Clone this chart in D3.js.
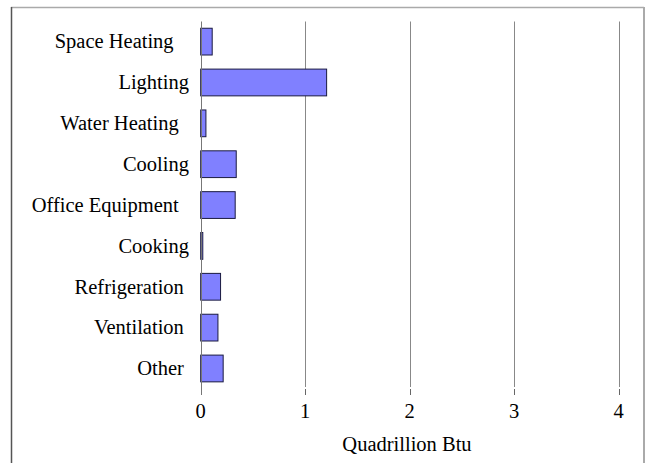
<!DOCTYPE html>
<html>
<head>
<script src="https://cdn.jsdelivr.net/npm/d3@7"></script>
</head>
<body style="margin:0">
<div id="chart"></div>
<script>
// end uses, trailing spaces kept as in the original labels
const categories = ['Space Heating   ', 'Lighting', 'Water Heating  ', 'Cooling', 'Office Equipment  ',
  'Cooking', 'Refrigeration ', 'Ventilation ', 'Other '];
const values = [0.11, 1.205, 0.05, 0.34, 0.33, 0.02, 0.19, 0.165, 0.215];
const xTicks = [0, 1, 2, 3, 4];
const xTitle = 'Quadrillion Btu';

const width = 646, height = 463;
const fontSize = 20.5;

const svg = d3.select('#chart')
  .append('svg')
  .attr('width', width)
  .attr('height', height);

// frame around the chart (no bottom edge)
svg.append('line').attr('x1', 11).attr('x2', 644).attr('y1', 7.5).attr('y2', 7.5)
  .attr('stroke', '#aaa').attr('stroke-width', 1.5);
svg.append('line').attr('x1', 11.5).attr('x2', 11.5).attr('y1', 7).attr('y2', height)
  .attr('stroke', '#555').attr('stroke-width', 1.5);
svg.append('line').attr('x1', 644).attr('x2', 644).attr('y1', 7).attr('y2', height)
  .attr('stroke', '#aaa').attr('stroke-width', 2);

const xScale = d3.scaleLinear().domain([0, 4]).range([200.7, 618.7]);
const yScale = d3.scaleBand().domain(categories).range([21.3, 388.8])
  .paddingInner(0.345).paddingOuter(0.17);

const plotTop = 21.5, plotBottom = 387, tickBottom = 395;

// vertical gridlines
svg.append('g')
  .selectAll('line')
  .data(xTicks.filter(d => d !== 0))
  .join('line')
  .attr('x1', d => Math.round(xScale(d)) + 0.5)
  .attr('x2', d => Math.round(xScale(d)) + 0.5)
  .attr('y1', plotTop)
  .attr('y2', plotBottom)
  .attr('stroke', '#888');

// x axis ticks, drawn by hand below the plot
svg.append('g')
  .selectAll('line')
  .data(xTicks)
  .join('line')
  .attr('x1', d => Math.round(xScale(d)) + 0.5)
  .attr('x2', d => Math.round(xScale(d)) + 0.5)
  .attr('y1', plotBottom + 2)
  .attr('y2', tickBottom)
  .attr('stroke', '#666');

svg.append('g')
  .selectAll('text')
  .data(xTicks)
  .join('text')
  .attr('x', d => xScale(d))
  .attr('y', 418)
  .attr('text-anchor', 'middle')
  .attr('font-family', 'Liberation Serif')
  .attr('font-size', fontSize)
  .text(d => d);

// bars
svg.append('g')
  .selectAll('rect')
  .data(values)
  .join('rect')
  .attr('x', xScale(0))
  .attr('y', (d, i) => yScale(categories[i]))
  .attr('width', d => xScale(d) - xScale(0))
  .attr('height', yScale.bandwidth())
  .attr('fill', '#8080ff')
  .attr('stroke', '#1a1a40')
  .attr('stroke-width', 1);

// zero axis line
svg.append('line')
  .attr('x1', Math.round(xScale(0)) + 0.5)
  .attr('x2', Math.round(xScale(0)) + 0.5)
  .attr('y1', plotTop)
  .attr('y2', tickBottom)
  .attr('stroke', '#777');

// category labels
svg.append('g')
  .selectAll('text')
  .data(categories)
  .join('text')
  .attr('x', 189)
  .attr('y', d => yScale(d) + yScale.bandwidth() / 2)
  .attr('dy', '0.33em')
  .attr('text-anchor', 'end')
  .attr('font-family', 'Liberation Serif')
  .attr('font-size', fontSize)
  .attr('xml:space', 'preserve')
  .text(d => d);

// axis title
svg.append('text')
  .attr('x', 407)
  .attr('y', 451)
  .attr('text-anchor', 'middle')
  .attr('font-family', 'Liberation Serif')
  .attr('font-size', fontSize)
  .text(xTitle);
</script>
</body>
</html>
